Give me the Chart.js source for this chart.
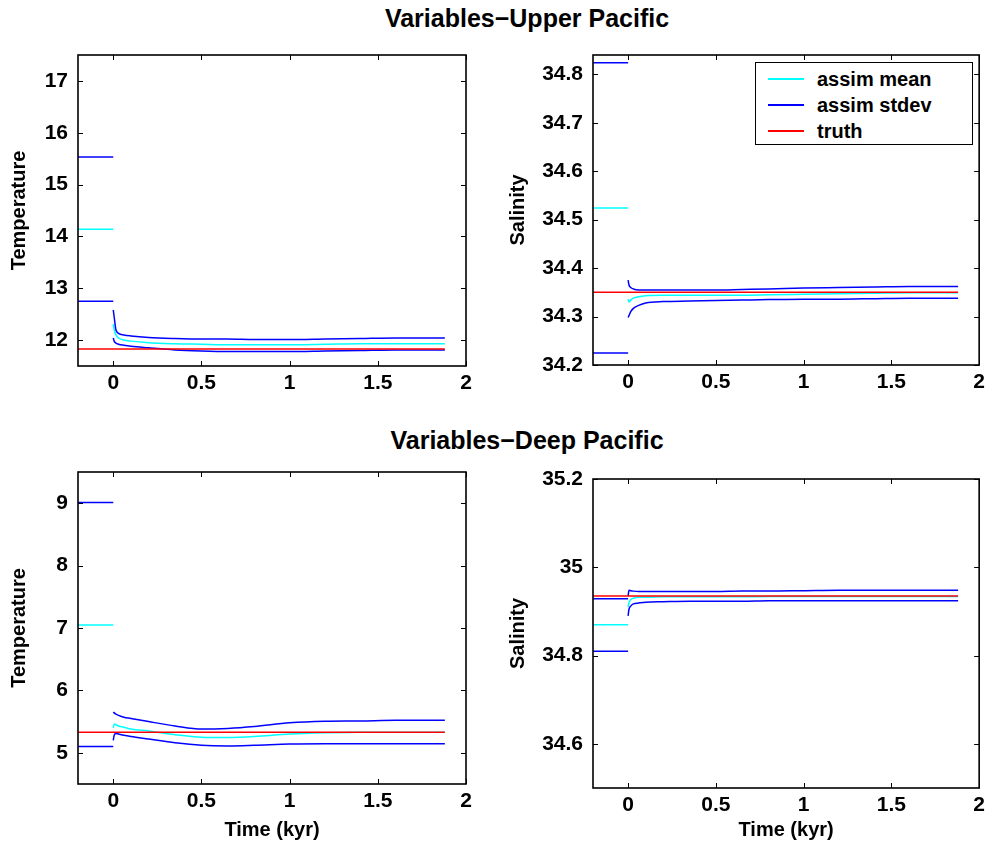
<!DOCTYPE html>
<html>
<head>
<meta charset="utf-8">
<script src="https://cdn.jsdelivr.net/npm/chart.js@4"></script>
<style>
  body { margin: 0; background: #fff; width: 990px; height: 847px; position: relative; overflow: hidden;
         font-family: "Liberation Sans", Arial, sans-serif; font-weight: bold; color: #000; }
  canvas { position: absolute; }
  .suptitle { position: absolute; left: 0; width: 1054px; text-align: center; font-size: 25px; line-height: 28px; }
  #legend { position: absolute; left: 755px; top: 62px; width: 216px; height: 81px; border: 1px solid #000;
            background: #fff; font-size: 20px; }
  #legend .row { position: absolute; left: 0; height: 26px; line-height: 26px; }
  #legend .swatch { position: absolute; left: 12px; top: 12px; width: 36px; height: 2px; }
  #legend .label { position: absolute; left: 61px; white-space: nowrap; }
</style>
</head>
<body>
<div class="suptitle" style="top:4px">Variables&minus;Upper Pacific</div>
<div class="suptitle" style="top:426px">Variables&minus;Deep Pacific</div>
<canvas id="upTemp" width="495" height="420" style="left:0;top:0"></canvas>
<canvas id="upSalt" width="495" height="420" style="left:495px;top:0"></canvas>
<canvas id="deepTemp" width="495" height="427" style="left:0;top:420px"></canvas>
<canvas id="deepSalt" width="495" height="427" style="left:495px;top:420px"></canvas>
<div id="legend"></div>
<script>
/* global Chart */

const legendLabels = ['assim mean', 'assim stdev', 'truth'];
const legendColors = ['#00ffff', '#0000ff', '#ff0000'];

const xTicks = [0, 0.5, 1, 1.5, 2];
const spinupTime = [-0.2, 0];
const truthTime = [-0.2, 1.88];
const assimTime = [0, 0.005, 0.015, 0.03, 0.06, 0.1, 0.2, 0.35, 0.5, 0.65, 0.8, 1.0, 1.2, 1.4, 1.6, 1.88];

// Upper Pacific temperature
const upTempTicks = [12, 13, 14, 15, 16, 17];
const upTempSpinMean = [14.14, 14.14];
const upTempSpinHi = [15.53, 15.53];
const upTempSpinLo = [12.75, 12.75];
const upTempMean = [12.31, 12.2, 12.1, 12.04, 12.0, 11.98, 11.95, 11.93, 11.92, 11.91, 11.91, 11.91, 11.92, 11.93, 11.93, 11.93];
const upTempHi = [12.58, 12.45, 12.2, 12.13, 12.1, 12.08, 12.05, 12.03, 12.02, 12.02, 12.01, 12.01, 12.02, 12.03, 12.04, 12.04];
const upTempLo = [12.04, 11.98, 11.94, 11.92, 11.9, 11.88, 11.85, 11.81, 11.79, 11.78, 11.78, 11.78, 11.79, 11.8, 11.81, 11.81];
const upTempTruth = [11.83, 11.83];

// Upper Pacific salinity
const upSaltTicks = [34.2, 34.3, 34.4, 34.5, 34.6, 34.7, 34.8];
const upSaltSpinMean = [34.524, 34.524];
const upSaltSpinHi = [34.824, 34.824];
const upSaltSpinLo = [34.225, 34.225];
const upSaltMean = [34.336, 34.33, 34.334, 34.338, 34.341, 34.343, 34.344, 34.344, 34.344, 34.344, 34.345, 34.346, 34.347, 34.348, 34.349, 34.349];
const upSaltHi = [34.375, 34.365, 34.36, 34.357, 34.355, 34.355, 34.355, 34.355, 34.355, 34.356, 34.357, 34.359, 34.36, 34.361, 34.362, 34.362];
const upSaltLo = [34.298, 34.302, 34.31, 34.317, 34.323, 34.328, 34.331, 34.332, 34.333, 34.334, 34.335, 34.336, 34.336, 34.337, 34.338, 34.338];
const upSaltTruth = [34.35, 34.35];

// Deep Pacific temperature
const deepTempTicks = [5, 6, 7, 8, 9];
const deepTempSpinMean = [7.05, 7.05];
const deepTempSpinHi = [9.01, 9.01];
const deepTempSpinLo = [5.1, 5.1];
const deepTempMean = [5.4, 5.46, 5.45, 5.43, 5.41, 5.38, 5.35, 5.29, 5.25, 5.245, 5.26, 5.3, 5.32, 5.33, 5.33, 5.33];
const deepTempHi = [5.655, 5.64, 5.62, 5.6, 5.57, 5.55, 5.5, 5.43, 5.38, 5.39, 5.42, 5.48, 5.505, 5.51, 5.52, 5.52];
const deepTempLo = [5.2, 5.28, 5.31, 5.3, 5.28, 5.26, 5.22, 5.16, 5.12, 5.11, 5.12, 5.14, 5.145, 5.145, 5.145, 5.145];
const deepTempTruth = [5.33, 5.33];

// Deep Pacific salinity
const deepSaltTicks = [34.6, 34.8, 35, 35.2];
const deepSaltSpinMean = [34.87, 34.87];
const deepSaltSpinHi = [34.929, 34.929];
const deepSaltSpinLo = [34.81, 34.81];
const deepSaltMean = [34.91, 34.92, 34.927, 34.93, 34.932, 34.932, 34.933, 34.933, 34.933, 34.933, 34.934, 34.934, 34.934, 34.934, 34.934, 34.934];
const deepSaltHi = [34.935, 34.948, 34.947, 34.946, 34.945, 34.945, 34.945, 34.945, 34.945, 34.946, 34.946, 34.947, 34.948, 34.948, 34.948, 34.948];
const deepSaltLo = [34.89, 34.905, 34.912, 34.917, 34.919, 34.921, 34.922, 34.923, 34.923, 34.923, 34.924, 34.924, 34.924, 34.924, 34.924, 34.924];
const deepSaltTruth = [34.935, 34.935];

Chart.defaults.font.family = '"Liberation Sans", Arial, sans-serif';
Chart.defaults.font.size = 20;
Chart.defaults.font.weight = 'bold';
Chart.defaults.color = '#000';

const fmt = (v) => String(Number(v.toFixed(2)));

// MATLAB style box with inward ticks on all four sides
const boxPlugin = {
  id: 'matlabBox',
  afterDraw(chart) {
    const { ctx, chartArea: a } = chart;
    const { x, y } = chart.scales;
    ctx.save();
    ctx.strokeStyle = '#000';
    ctx.lineWidth = 1;
    ctx.beginPath();
    x.ticks.forEach((t) => {
      const px = Math.round(x.getPixelForValue(t.value)) + 0.5;
      ctx.moveTo(px, a.bottom); ctx.lineTo(px, a.bottom - 5);
      ctx.moveTo(px, a.top); ctx.lineTo(px, a.top + 5);
    });
    y.ticks.forEach((t) => {
      const py = Math.round(y.getPixelForValue(t.value)) + 0.5;
      ctx.moveTo(a.left, py); ctx.lineTo(a.left + 5, py);
      ctx.moveTo(a.right, py); ctx.lineTo(a.right - 5, py);
    });
    ctx.stroke();
    ctx.lineWidth = 1.6;
    ctx.strokeRect(a.left, a.top, a.right - a.left, a.bottom - a.top);
    ctx.restore();
  },
};

function line(times, values, color, order) {
  return {
    data: times.map((t, i) => ({ x: t, y: values[i] })),
    borderColor: color,
    backgroundColor: color,
    borderWidth: 1.5,
    pointRadius: 0,
    fill: false,
    cubicInterpolationMode: 'monotone',
    order,
  };
}

function makePanel(id, p) {
  const [cMean, cStd, cTruth] = legendColors;
  return new Chart(document.getElementById(id), {
    type: 'line',
    data: {
      datasets: [
        line(truthTime, p.truth, cTruth, 0),
        line(spinupTime, p.spinHi, cStd, 1),
        line(spinupTime, p.spinLo, cStd, 1),
        line(assimTime, p.hi, cStd, 1),
        line(assimTime, p.lo, cStd, 1),
        line(spinupTime, p.spinMean, cMean, 2),
        line(assimTime, p.mean, cMean, 2),
      ],
    },
    options: {
      responsive: false,
      animation: false,
      devicePixelRatio: 1,
      layout: { padding: { left: 0, top: p.padTop, right: p.padRight, bottom: 0 } },
      plugins: { legend: { display: false }, tooltip: { enabled: false } },
      scales: {
        x: {
          type: 'linear',
          min: -0.2,
          max: 2,
          grid: { display: false, drawTicks: false },
          border: { display: false },
          afterBuildTicks: (s) => { s.ticks = xTicks.map((v) => ({ value: v })); },
          afterFit: (s) => { s.height = p.xHeight; },
          ticks: { autoSkip: false, maxRotation: 0, padding: 5, font: { size: 21 }, callback: fmt },
          title: { display: !!p.xTitle, text: p.xTitle || '', padding: { top: 0, bottom: 5 } },
        },
        y: {
          type: 'linear',
          min: p.yMin,
          max: p.yMax,
          grid: { display: false, drawTicks: false },
          border: { display: false },
          afterBuildTicks: (s) => { s.ticks = p.yTicks.map((v) => ({ value: v })); },
          afterFit: (s) => { s.width = p.yWidth; },
          ticks: { autoSkip: false, padding: 10, font: { size: 21 }, callback: fmt },
          title: { display: true, text: p.yTitle, padding: { top: p.yTitlePad, bottom: 0 } },
        },
      },
    },
    plugins: [boxPlugin],
  });
}

makePanel('upTemp', {
  truth: upTempTruth, spinMean: upTempSpinMean, spinHi: upTempSpinHi, spinLo: upTempSpinLo,
  mean: upTempMean, hi: upTempHi, lo: upTempLo,
  yMin: 11.5, yMax: 17.5, yTicks: upTempTicks, yTitle: 'Temperature',
  padTop: 55, padRight: 29, yWidth: 78, xHeight: 54, yTitlePad: 7,
});

makePanel('upSalt', {
  truth: upSaltTruth, spinMean: upSaltSpinMean, spinHi: upSaltSpinHi, spinLo: upSaltSpinLo,
  mean: upSaltMean, hi: upSaltHi, lo: upSaltLo,
  yMin: 34.2, yMax: 34.84, yTicks: upSaltTicks, yTitle: 'Salinity',
  padTop: 55, padRight: 9, yWidth: 98, xHeight: 55, yTitlePad: 11,
});

makePanel('deepTemp', {
  truth: deepTempTruth, spinMean: deepTempSpinMean, spinHi: deepTempSpinHi, spinLo: deepTempSpinLo,
  mean: deepTempMean, hi: deepTempHi, lo: deepTempLo,
  yMin: 4.5, yMax: 9.5, yTicks: deepTempTicks, yTitle: 'Temperature', xTitle: 'Time (kyr)',
  padTop: 52, padRight: 29, yWidth: 78, xHeight: 63, yTitlePad: 7,
});

makePanel('deepSalt', {
  truth: deepSaltTruth, spinMean: deepSaltSpinMean, spinHi: deepSaltSpinHi, spinLo: deepSaltSpinLo,
  mean: deepSaltMean, hi: deepSaltHi, lo: deepSaltLo,
  yMin: 34.5, yMax: 35.2, yTicks: deepSaltTicks, yTitle: 'Salinity', xTitle: 'Time (kyr)',
  padTop: 59, padRight: 9, yWidth: 98, xHeight: 59, yTitlePad: 11,
});

// legend box inside the upper salinity panel
const legend = document.getElementById('legend');
legendLabels.forEach((label, i) => {
  const row = document.createElement('div');
  row.className = 'row';
  row.style.top = `${3 + i * 26}px`;
  row.innerHTML = `<span class="swatch" style="background:${legendColors[i]}"></span><span class="label">${label}</span>`;
  legend.appendChild(row);
});
</script>
</body>
</html>
